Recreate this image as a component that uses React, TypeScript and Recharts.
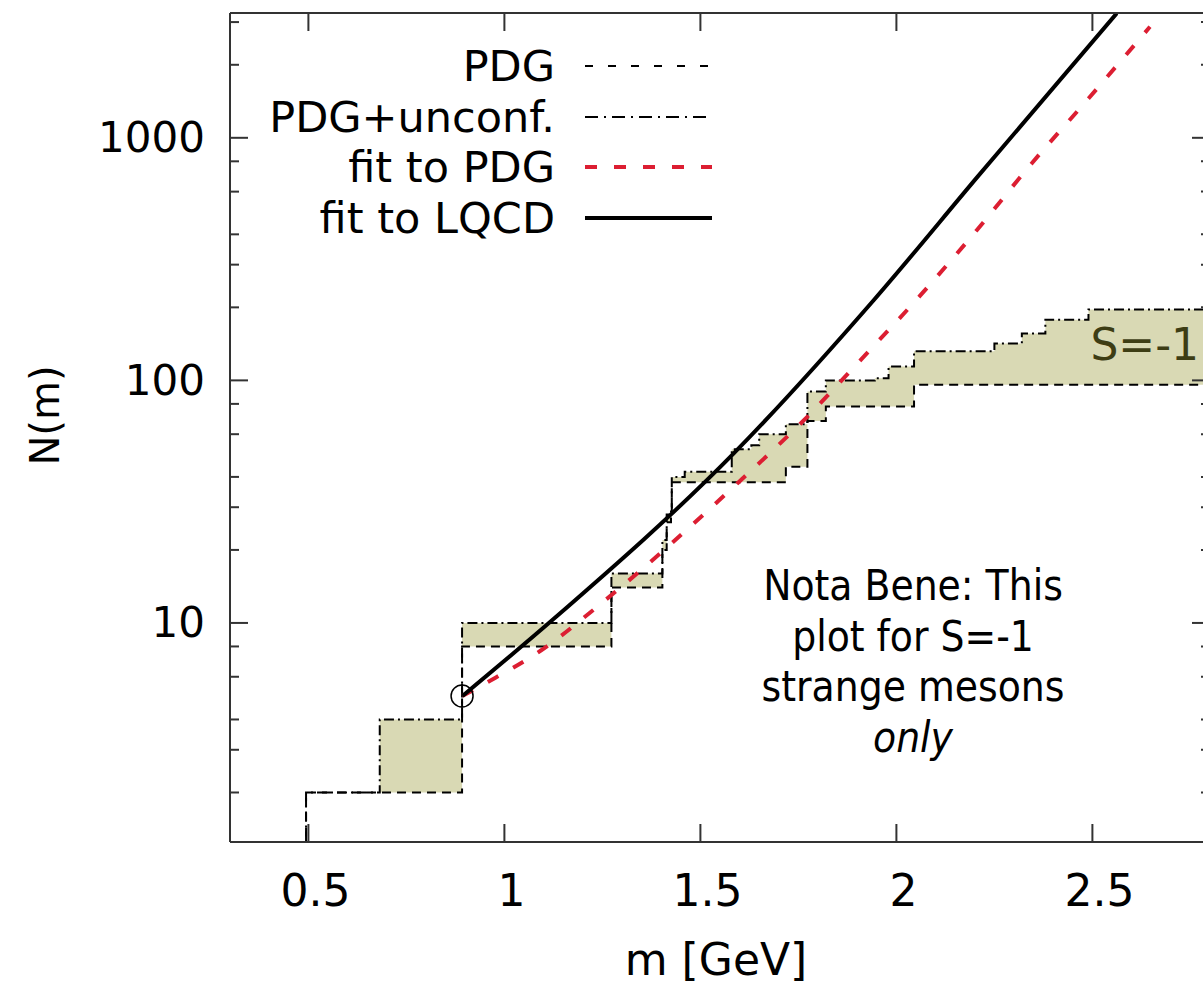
import React from "react";
import { ComposedChart, Line, Area, Scatter, XAxis, YAxis, Legend, ReferenceDot } from "recharts";

const FONT = '"DejaVu Sans", Verdana, sans-serif';
const FRAME = "#333333";
const BAND_FILL = "#d9d9b4";
const RED = "#dc1e32";

// cumulative number of S=-1 meson states, step edges in GeV
const stepMass = [0.3, 0.494, 0.682, 0.892, 1.273, 1.403, 1.414, 1.425, 1.427, 1.46, 1.58, 1.63, 1.65, 1.718, 1.773, 1.82, 1.945, 1.98, 2.045, 2.25, 2.32, 2.38, 2.49, 2.8];
const countPDG = [1, 2, 2, 8, 14, 20, 26, 28, 38, 38, 38, 38, 38, 44, 68, 78, 78, 78, 96, 96, 96, 96, 96, 96];
const countUnconf = [1, 2, 4, 10, 16, 22, 28, 30, 40, 42, 52, 54, 60, 66, 90, 100, 102, 114, 132, 142, 156, 178, 196, 196];

// fit curves
const lqcdMass = [0.893, 1.126, 1.585, 1.942, 2.21, 2.562];
const lqcdN = [5, 10.4, 50, 214, 700, 3260];
const pdgFitMass = [0.893, 0.957, 1.093, 1.262, 1.594, 1.772, 1.908, 2.061, 2.205, 2.345, 2.49, 2.647];
const pdgFitN = [5, 5.7, 7.7, 12.6, 37.6, 70.6, 121, 224, 416, 784, 1452, 2870];

const thresholdMass = [0.892];
const thresholdN = [5];

const xTicks = [0.5, 1, 1.5, 2, 2.5];
const yMajor = [10, 100, 1000];
const yMinor = [2, 3, 4, 5, 6, 7, 8, 9, 20, 30, 40, 50, 60, 70, 80, 90, 200, 300, 400, 500, 600, 700, 800, 900, 2000, 3000];
const yTicks = [...yMinor, ...yMajor].sort((a, b) => a - b);

const X_DOMAIN: [number, number] = [0.3, 2.8];
const Y_DOMAIN: [number, number] = [1.25, 3270];

const stepData = stepMass.map((m, i) => ({
  m,
  lo: countPDG[i],
  hi: countUnconf[i],
  band: [countPDG[i], countUnconf[i]],
}));
const lqcdData = lqcdMass.map((m, i) => ({ m, n: lqcdN[i] }));
const pdgFitData = pdgFitMass.map((m, i) => ({ m, n: pdgFitN[i] }));
const thresholdData = thresholdMass.map((m, i) => ({ m, n: thresholdN[i] }));

const LEGEND_ITEMS = [
  { label: "PDG", stroke: "#000", width: 2, dash: "8 15" },
  { label: "PDG+unconf.", stroke: "#000", width: 2, dash: "13 6 2 6" },
  { label: "fit to PDG", stroke: RED, width: 4, dash: "12 17" },
  { label: "fit to LQCD", stroke: "#000", width: 4, dash: undefined },
];

const yTickText = { fontFamily: FONT, fontSize: 42, fill: "#000" };
const xTickText = { fontFamily: FONT, fontSize: 44, fill: "#000" };

function LeftTick({ x, y, payload }: any) {
  const major = yMajor.includes(payload.value);
  return (
    <g>
      <line x1={x} x2={x + (major ? 18 : 9)} y1={y} y2={y} stroke={FRAME} strokeWidth={2} />
      {major && (
        <text x={x - 25} y={y} textAnchor="end" dominantBaseline="central" style={yTickText}>
          {payload.value}
        </text>
      )}
    </g>
  );
}

function RightTick({ x, y, payload }: any) {
  const major = yMajor.includes(payload.value);
  return <line x1={x} x2={x - (major ? 18 : 9)} y1={y} y2={y} stroke={FRAME} strokeWidth={2} />;
}

function BottomTick({ x, y, payload }: any) {
  return (
    <g>
      <line x1={x} x2={x} y1={y} y2={y - 18} stroke={FRAME} strokeWidth={2} />
      <text x={x + 7} y={y + 48} textAnchor="middle" dominantBaseline="central" style={xTickText}>
        {payload.value}
      </text>
    </g>
  );
}

function TopTick({ x, y }: any) {
  return <line x1={x} x2={x} y1={y} y2={y + 18} stroke={FRAME} strokeWidth={2} />;
}

function YTitle({ viewBox }: any) {
  const cx = viewBox.x + 45;
  const cy = viewBox.y + viewBox.height / 2 - 12;
  return (
    <text x={cx} y={cy} transform={`rotate(-90 ${cx} ${cy})`} textAnchor="middle" dominantBaseline="central" style={{ fontFamily: FONT, fontSize: 40 }}>
      N(m)
    </text>
  );
}

function XTitle({ viewBox }: any) {
  return (
    <text x={viewBox.x + viewBox.width / 2 - 4} y={viewBox.y + 117} textAnchor="middle" dominantBaseline="central" style={{ fontFamily: FONT, fontSize: 44 }}>
      m [GeV]
    </text>
  );
}

function LegendBox() {
  return (
    <div style={{ fontFamily: FONT, fontSize: 43 }}>
      {LEGEND_ITEMS.map((it) => (
        <div key={it.label} style={{ display: "flex", alignItems: "center", height: 50.5 }}>
          <span style={{ width: 315, textAlign: "right", whiteSpace: "nowrap" }}>{it.label}</span>
          <svg width={127} height={10} style={{ marginLeft: 30 }}>
            <line x1={0} x2={127} y1={5} y2={5} stroke={it.stroke} strokeWidth={it.width} strokeDasharray={it.dash} />
          </svg>
        </div>
      ))}
    </div>
  );
}

function SLabel({ cx, cy }: any) {
  return (
    <text x={cx - 2} y={cy} dominantBaseline="central" style={{ fontFamily: FONT, fontSize: 44, fill: "#3d3d14" }}>
      S=-1
    </text>
  );
}

function OpenCircle({ cx, cy }: any) {
  return <circle cx={cx} cy={cy} r={11} fill="none" stroke="#000" strokeWidth={1.5} />;
}

export default function App() {
  return (
    <div
      style={{
        position: "absolute",
        left: 0,
        top: 0,
        width: 1203,
        height: 984,
        overflow: "hidden",
        background: "#fff",
        fontFamily: FONT,
      }}
    >
      <ComposedChart width={1240} height={984} data={stepData} margin={{ top: 12, right: 0, bottom: 0, left: 0 }}>
        <XAxis
          dataKey="m"
          type="number"
          domain={X_DOMAIN}
          allowDataOverflow
          ticks={xTicks}
          tick={<BottomTick />}
          tickLine={false}
          tickSize={0}
          tickMargin={0}
          height={142}
          axisLine={{ stroke: FRAME, strokeWidth: 2 }}
          label={<XTitle />}
        />
        <XAxis
          xAxisId="t"
          dataKey="m"
          orientation="top"
          type="number"
          domain={X_DOMAIN}
          allowDataOverflow
          ticks={xTicks}
          tick={<TopTick />}
          tickLine={false}
          tickSize={0}
          tickMargin={0}
          height={1}
          axisLine={{ stroke: FRAME, strokeWidth: 2 }}
        />
        <YAxis
          type="number"
          scale="log"
          domain={Y_DOMAIN}
          allowDataOverflow
          ticks={yTicks}
          tick={<LeftTick />}
          tickLine={false}
          tickSize={0}
          tickMargin={0}
          width={230}
          axisLine={{ stroke: FRAME, strokeWidth: 2 }}
          label={<YTitle />}
        />
        <YAxis
          yAxisId="r"
          orientation="right"
          type="number"
          scale="log"
          domain={Y_DOMAIN}
          allowDataOverflow
          ticks={yTicks}
          tick={<RightTick />}
          tickLine={false}
          tickSize={0}
          tickMargin={0}
          width={30}
          axisLine={{ stroke: FRAME, strokeWidth: 2 }}
        />
        <Legend
          layout="vertical"
          align="center"
          verticalAlign="middle"
          wrapperStyle={{ position: "absolute", top: 41, left: 240, width: 480 }}
          content={<LegendBox />}
        />

        <Area
          dataKey="band"
          type="stepAfter"
          fill={BAND_FILL}
          fillOpacity={1}
          stroke="none"
          isAnimationActive={false}
          legendType="none"
        />
        <Line
          dataKey="lo"
          name="PDG"
          type="stepAfter"
          stroke="#000"
          strokeWidth={2}
          strokeDasharray="9 6"
          dot={false}
          isAnimationActive={false}
        />
        <Line
          dataKey="hi"
          name="PDG+unconf."
          type="stepAfter"
          stroke="#000"
          strokeWidth={2}
          strokeDasharray="10 4 2 4"
          dot={false}
          isAnimationActive={false}
        />
        <Line
          data={pdgFitData}
          dataKey="n"
          name="fit to PDG"
          type="monotone"
          stroke={RED}
          strokeWidth={4}
          strokeDasharray="12 17"
          dot={false}
          isAnimationActive={false}
        />
        <Line
          data={lqcdData}
          dataKey="n"
          name="fit to LQCD"
          type="monotone"
          stroke="#000"
          strokeWidth={4}
          dot={false}
          isAnimationActive={false}
        />
        <Scatter data={thresholdData} dataKey="n" shape={<OpenCircle />} isAnimationActive={false} legendType="none" />
        <ReferenceDot x={2.5} y={140} r={0} shape={<SLabel />} />
      </ComposedChart>

      <div
        style={{
          position: "absolute",
          left: 713,
          top: 561,
          width: 400,
          textAlign: "center",
          fontFamily: '"DejaVu Sans Condensed", "DejaVu Sans", sans-serif',
          fontSize: 42,
          lineHeight: "50.5px",
          color: "#000",
        }}
      >
        <div>Nota Bene: This</div>
        <div>plot for S=-1</div>
        <div>strange mesons</div>
        <div style={{ fontStyle: "italic" }}>only</div>
      </div>
    </div>
  );
}
